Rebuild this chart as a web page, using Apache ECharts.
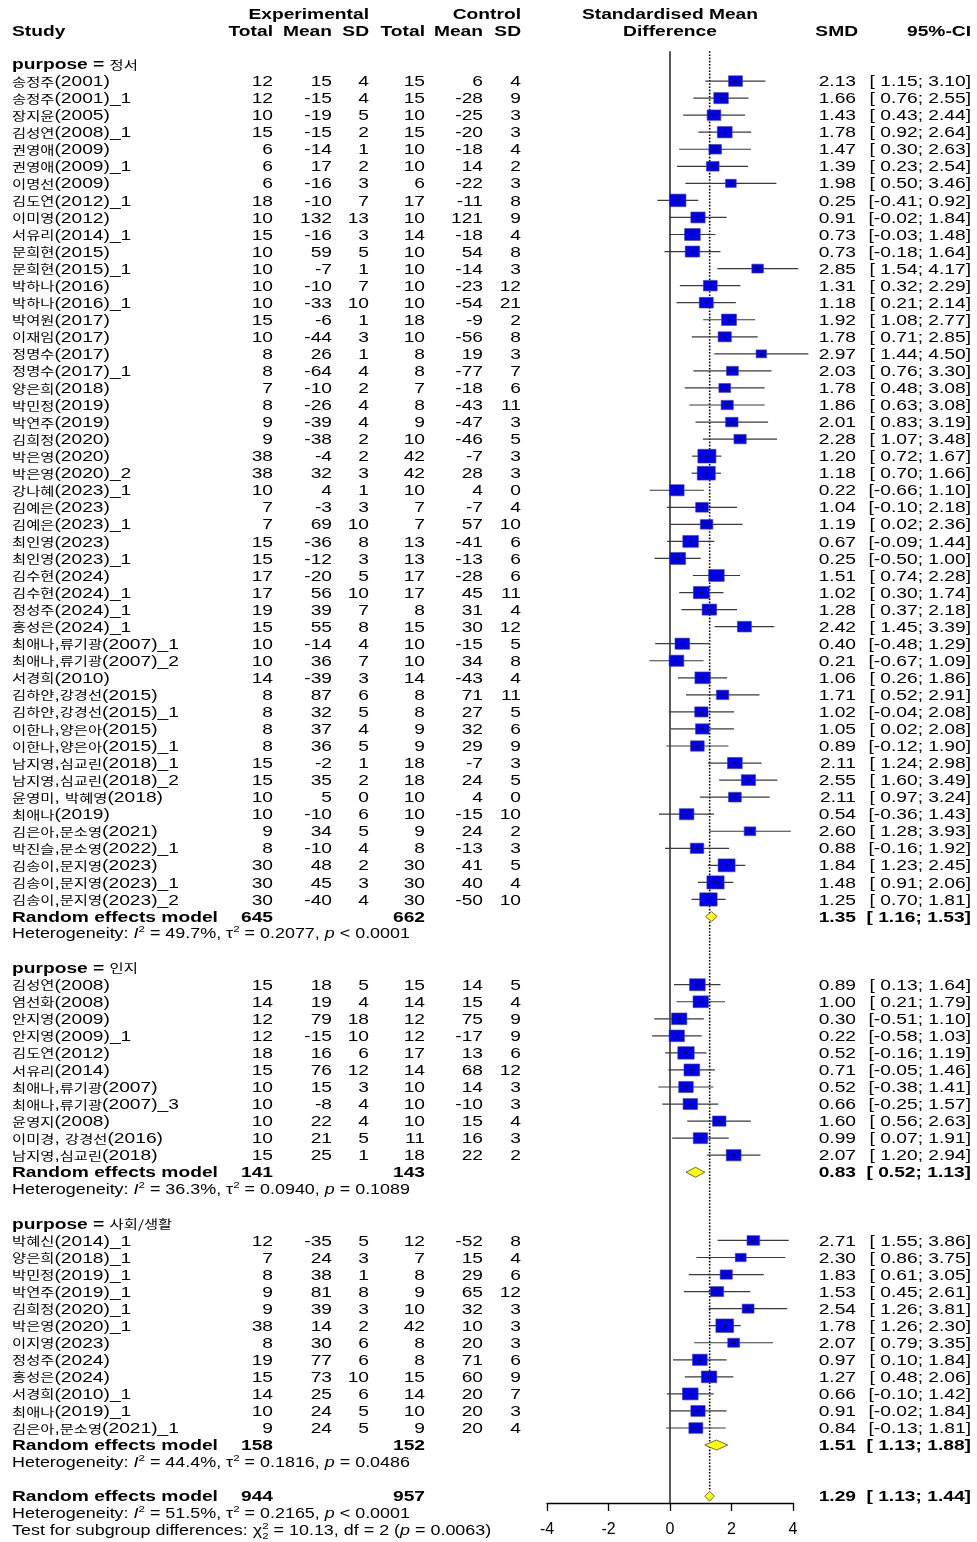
<!DOCTYPE html>
<html>
<head>
<meta charset="utf-8">
<script src="https://cdn.jsdelivr.net/npm/echarts@6/dist/echarts.min.js"></script>
<style>
  html, body { margin: 0; padding: 0; background: #fff; }
  #chart { width: 977px; height: 1542px; }
</style>
</head>
<body>
<div id="chart"></div>
<script>
// ---------- study-level data, in display order ----------
const study = [
  '송정주(2001)', '송정주(2001)_1', '장지윤(2005)', '김성연(2008)_1', '권영애(2009)', '권영애(2009)_1',
  '이명선(2009)', '김도연(2012)_1', '이미영(2012)', '서유리(2014)_1', '문희현(2015)', '문희현(2015)_1',
  '박하나(2016)', '박하나(2016)_1', '박여원(2017)', '이재임(2017)', '정명수(2017)', '정명수(2017)_1',
  '양은희(2018)', '박민정(2019)', '박연주(2019)', '김희정(2020)', '박은영(2020)', '박은영(2020)_2',
  '강나혜(2023)_1', '김예은(2023)', '김예은(2023)_1', '최인영(2023)', '최인영(2023)_1', '김수현(2024)',
  '김수현(2024)_1', '정성주(2024)_1', '홍성은(2024)_1', '최애나,류기광(2007)_1', '최애나,류기광(2007)_2',
  '서경희(2010)', '김하얀,강경선(2015)', '김하얀,강경선(2015)_1', '이한나,양은아(2015)', '이한나,양은아(2015)_1',
  '남지영,심교린(2018)_1', '남지영,심교린(2018)_2', '윤영미, 박혜영(2018)', '최애나(2019)', '김은아,문소영(2021)',
  '박진슬,문소영(2022)_1', '김송이,문지영(2023)', '김송이,문지영(2023)_1', '김송이,문지영(2023)_2',
  '김성연(2008)', '염선화(2008)', '안지영(2009)', '안지영(2009)_1', '김도연(2012)', '서유리(2014)',
  '최애나,류기광(2007)', '최애나,류기광(2007)_3', '윤영지(2008)', '이미경, 강경선(2016)', '남지영,심교린(2018)',
  '박혜신(2014)_1', '양은희(2018)_1', '박민정(2019)_1', '박연주(2019)_1', '김희정(2020)_1', '박은영(2020)_1',
  '이지영(2023)', '정성주(2024)', '홍성은(2024)', '서경희(2010)_1', '최애나(2019)_1', '김은아,문소영(2021)_1'
];
const expTotal = [
  12, 12, 10, 15, 6, 6, 6, 18, 10, 15, 10, 10, 10, 10, 15, 10, 8, 8, 7, 8, 9, 9, 38, 38, 10, 7, 7, 15, 15, 17,
  17, 19, 15, 10, 10, 14, 8, 8, 8, 8, 15, 15, 10, 10, 9, 8, 30, 30, 30,
  15, 14, 12, 12, 18, 15, 10, 10, 10, 10, 15,
  12, 7, 8, 9, 9, 38, 8, 19, 15, 14, 10, 9
];
const expMean = [
  15, -15, -19, -15, -14, 17, -16, -10, 132, -16, 59, -7, -10, -33, -6, -44, 26, -64, -10, -26, -39, -38, -4, 32,
  4, -3, 69, -36, -12, -20, 56, 39, 55, -14, 36, -39, 87, 32, 37, 36, -2, 35, 5, -10, 34, -10, 48, 45, -40,
  18, 19, 79, -15, 16, 76, 15, -8, 22, 21, 25,
  -35, 24, 38, 81, 39, 14, 30, 77, 73, 25, 24, 24
];
const expSD = [
  4, 4, 5, 2, 1, 2, 3, 7, 13, 3, 5, 1, 7, 10, 1, 3, 1, 4, 2, 4, 4, 2, 2, 3, 1, 3, 10, 8, 3, 5,
  10, 7, 8, 4, 7, 3, 6, 5, 4, 5, 1, 2, 0, 6, 5, 4, 2, 3, 4,
  5, 4, 18, 10, 6, 12, 3, 4, 4, 5, 1,
  5, 3, 1, 8, 3, 2, 6, 6, 10, 6, 5, 5
];
const ctrlTotal = [
  15, 15, 10, 15, 10, 10, 6, 17, 10, 14, 10, 10, 10, 10, 18, 10, 8, 8, 7, 8, 9, 10, 42, 42, 10, 7, 7, 13, 13, 17,
  17, 8, 15, 10, 10, 14, 8, 8, 9, 9, 18, 18, 10, 10, 9, 8, 30, 30, 30,
  15, 14, 12, 12, 17, 14, 10, 10, 10, 11, 18,
  12, 7, 8, 9, 10, 42, 8, 8, 15, 14, 10, 9
];
const ctrlMean = [
  6, -28, -25, -20, -18, 14, -22, -11, 121, -18, 54, -14, -23, -54, -9, -56, 19, -77, -18, -43, -47, -46, -7, 28,
  4, -7, 57, -41, -13, -28, 45, 31, 30, -15, 34, -43, 71, 27, 32, 29, -7, 24, 4, -15, 24, -13, 41, 40, -50,
  14, 15, 75, -17, 13, 68, 14, -10, 15, 16, 22,
  -52, 15, 29, 65, 32, 10, 20, 71, 60, 20, 20, 20
];
const ctrlSD = [
  4, 9, 3, 3, 4, 2, 3, 8, 9, 4, 8, 3, 12, 21, 2, 8, 3, 7, 6, 11, 3, 5, 3, 3, 0, 4, 10, 6, 6, 6,
  11, 4, 12, 5, 8, 4, 11, 5, 6, 9, 3, 5, 0, 10, 2, 3, 5, 4, 10,
  5, 4, 9, 9, 6, 12, 3, 3, 4, 3, 2,
  8, 4, 6, 12, 3, 3, 3, 6, 9, 7, 3, 4
];
const smd = [
  2.13, 1.66, 1.43, 1.78, 1.47, 1.39, 1.98, 0.25, 0.91, 0.73, 0.73, 2.85, 1.31, 1.18, 1.92, 1.78, 2.97, 2.03,
  1.78, 1.86, 2.01, 2.28, 1.20, 1.18, 0.22, 1.04, 1.19, 0.67, 0.25, 1.51, 1.02, 1.28, 2.42, 0.40, 0.21, 1.06,
  1.71, 1.02, 1.05, 0.89, 2.11, 2.55, 2.11, 0.54, 2.60, 0.88, 1.84, 1.48, 1.25,
  0.89, 1.00, 0.30, 0.22, 0.52, 0.71, 0.52, 0.66, 1.60, 0.99, 2.07,
  2.71, 2.30, 1.83, 1.53, 2.54, 1.78, 2.07, 0.97, 1.27, 0.66, 0.91, 0.84
];
const ciLow = [
  1.15, 0.76, 0.43, 0.92, 0.30, 0.23, 0.50, -0.41, -0.02, -0.03, -0.18, 1.54, 0.32, 0.21, 1.08, 0.71, 1.44, 0.76,
  0.48, 0.63, 0.83, 1.07, 0.72, 0.70, -0.66, -0.10, 0.02, -0.09, -0.50, 0.74, 0.30, 0.37, 1.45, -0.48, -0.67, 0.26,
  0.52, -0.04, 0.02, -0.12, 1.24, 1.60, 0.97, -0.36, 1.28, -0.16, 1.23, 0.91, 0.70,
  0.13, 0.21, -0.51, -0.58, -0.16, -0.05, -0.38, -0.25, 0.56, 0.07, 1.20,
  1.55, 0.86, 0.61, 0.45, 1.26, 1.26, 0.79, 0.10, 0.48, -0.10, -0.02, -0.13
];
const ciHigh = [
  3.10, 2.55, 2.44, 2.64, 2.63, 2.54, 3.46, 0.92, 1.84, 1.48, 1.64, 4.17, 2.29, 2.14, 2.77, 2.85, 4.50, 3.30,
  3.08, 3.08, 3.19, 3.48, 1.67, 1.66, 1.10, 2.18, 2.36, 1.44, 1.00, 2.28, 1.74, 2.18, 3.39, 1.29, 1.09, 1.86,
  2.91, 2.08, 2.08, 1.90, 2.98, 3.49, 3.24, 1.43, 3.93, 1.92, 2.45, 2.06, 1.81,
  1.64, 1.79, 1.10, 1.03, 1.19, 1.46, 1.41, 1.57, 2.63, 1.91, 2.94,
  3.86, 3.75, 3.05, 2.61, 3.81, 2.30, 3.35, 1.84, 2.06, 1.42, 1.84, 1.81
];

// ---------- subgroup summaries ----------
const subgroupName = ['정서', '인지', '사회/생활'];
const subgroupSize = [49, 11, 12];
const subgroupExpTotal = [645, 141, 158];
const subgroupCtrlTotal = [662, 143, 152];
const subgroupSMD = [1.35, 0.83, 1.51];
const subgroupLow = [1.16, 0.52, 1.13];
const subgroupHigh = [1.53, 1.13, 1.88];
const subgroupI2 = ['49.7%', '36.3%', '44.4%'];
const subgroupTau2 = ['0.2077', '0.0940', '0.1816'];
const subgroupP = ['< 0.0001', '= 0.1089', '= 0.0486'];

// ---------- overall model ----------
const overallExpTotal = 944;
const overallCtrlTotal = 957;
const overallSMD = 1.29;
const overallLow = 1.13;
const overallHigh = 1.44;
const overallI2 = '51.5%';
const overallTau2 = '0.2165';
const overallP = '< 0.0001';
const testChi2 = '10.13';
const testDf = '2';
const testP = '0.0063';

const axisTicks = [-4, -2, 0, 2, 4];

// ---------- layout ----------
const ROW0_Y = 64;          // pixel centre of the first subgroup heading
const ROW_H = 17.05;        // row pitch
const AXIS_Y = 1503;        // pixel position of the x axis line
const AXIS_ROW = (AXIS_Y - ROW0_Y) / ROW_H;
const TOP_ROW = -3;
const GRID_TOP = ROW0_Y + TOP_ROW * ROW_H;
const SX = 1.28;            // horizontal text stretch
const TEXT_DY = 1;
const LATIN = '"Liberation Sans", Arial, "Noto Sans CJK KR", sans-serif';
const KFAM = '"Noto Sans CJK KR", "Liberation Sans", sans-serif';
const COL = { study: 12, eTot: 273, eMean: 332, eSD: 369, cTot: 425, cMean: 483, cSD: 521, smdHead: 858, smd: 856, ci: 971, mid: 670 };

const measureCtx = document.createElement('canvas').getContext('2d');
function fontStr(s) {
  return (s.italic ? 'italic ' : '') + (s.bold ? 'bold ' : '') + s.size + 'px ' + (s.family || LATIN);
}
function textWidth(s) {
  measureCtx.font = fontStr(s);
  return measureCtx.measureText(s.t).width;
}
// lay out a list of text runs on one line and return graphic elements
function runs(x, y, segs, align) {
  let total = 0;
  const pos = [];
  segs.forEach(s => { pos.push(total); if (!s.stack) total += textWidth(s) * SX; });
  const x0 = align === 'right' ? x - total : align === 'center' ? x - total / 2 : x;
  return segs.map((s, i) => ({
    type: 'text', silent: true,
    x: x0 + pos[i], y: y + TEXT_DY + (s.dy || 0), scaleX: SX,
    style: { text: s.t, font: fontStr(s), fill: '#000', align: 'left', verticalAlign: 'middle' }
  }));
}
const R = (t, size) => ({ t, size: size || 15 });
const B = (t, size) => ({ t, size: size || 15, bold: true });
const IT = (t, size) => ({ t, size: size || 14, italic: true });
const SUP = (t, stack) => ({ t, size: 9, dy: -5, stack: !!stack });
const SUB = t => ({ t, size: 9, dy: 5 });
function nameSegs(name, size, bold, ksize) {
  return name.split(/([가-힣]+(?:\/[가-힣]+)*)/).filter(Boolean).map(part =>
    /[가-힣]/.test(part)
      ? { t: part, size: ksize, family: KFAM, bold: false }
      : { t: part, size, bold });
}
const f2 = v => v.toFixed(2);
const ciText = (lo, hi) => '[' + (lo >= 0 ? ' ' : '') + f2(lo) + '; ' + f2(hi) + ']';
function hetSegs(i2, tau2, p) {
  return [R('Heterogeneity: ', 14), IT('I'), SUP('2'), R(' = ' + i2 + ', ', 14), R('τ', 14), SUP('2'),
          R(' = ' + tau2 + ', ', 14), IT('p'), R(' ' + p, 14)];
}

// ---------- table rows ----------
const textRows = [];
const studyRow = [];
const pooled = [];   // [smd, row, low, high]
textRows.push({ row: -2.95, items: [
  { x: COL.eSD, align: 'right', segs: [B('Experimental')] },
  { x: COL.cSD, align: 'right', segs: [B('Control')] },
  { x: COL.mid, align: 'center', segs: [B('Standardised Mean')] }
] });
textRows.push({ row: -1.95, items: [
  { x: COL.study, align: 'left', segs: [B('Study')] },
  { x: COL.eTot, align: 'right', segs: [B('Total')] },
  { x: COL.eMean, align: 'right', segs: [B('Mean')] },
  { x: COL.eSD, align: 'right', segs: [B('SD')] },
  { x: COL.cTot, align: 'right', segs: [B('Total')] },
  { x: COL.cMean, align: 'right', segs: [B('Mean')] },
  { x: COL.cSD, align: 'right', segs: [B('SD')] },
  { x: COL.mid, align: 'center', segs: [B('Difference')] },
  { x: COL.smdHead, align: 'right', segs: [B('SMD')] },
  { x: COL.ci, align: 'right', segs: [B('95%-CI')] }
] });

let r = 0, k = 0;
subgroupName.forEach((g, gi) => {
  textRows.push({ row: r, items: [{ x: COL.study, align: 'left', segs: [B('purpose = ')].concat(nameSegs(g, 15, false, 12)) }] });
  r++;
  for (let j = 0; j < subgroupSize[gi]; j++, k++, r++) {
    studyRow.push(r);
    textRows.push({ row: r, items: [
      { x: COL.study, align: 'left', segs: nameSegs(study[k], 15, false, 12) },
      { x: COL.eTot, align: 'right', segs: [R(String(expTotal[k]))] },
      { x: COL.eMean, align: 'right', segs: [R(String(expMean[k]))] },
      { x: COL.eSD, align: 'right', segs: [R(String(expSD[k]))] },
      { x: COL.cTot, align: 'right', segs: [R(String(ctrlTotal[k]))] },
      { x: COL.cMean, align: 'right', segs: [R(String(ctrlMean[k]))] },
      { x: COL.cSD, align: 'right', segs: [R(String(ctrlSD[k]))] },
      { x: COL.smd, align: 'right', segs: [R(f2(smd[k]))] },
      { x: COL.ci, align: 'right', segs: [R(ciText(ciLow[k], ciHigh[k]))] }
    ] });
  }
  textRows.push({ row: r, items: [
    { x: COL.study, align: 'left', segs: [B('Random effects model')] },
    { x: COL.eTot, align: 'right', segs: [B(String(subgroupExpTotal[gi]))] },
    { x: COL.cTot, align: 'right', segs: [B(String(subgroupCtrlTotal[gi]))] },
    { x: COL.smd, align: 'right', segs: [B(f2(subgroupSMD[gi]))] },
    { x: COL.ci, align: 'right', segs: [B(ciText(subgroupLow[gi], subgroupHigh[gi]))] }
  ] });
  pooled.push([subgroupSMD[gi], r, subgroupLow[gi], subgroupHigh[gi]]);
  textRows.push({ row: r + 1, items: [{ x: COL.study, align: 'left', segs: hetSegs(subgroupI2[gi], subgroupTau2[gi], subgroupP[gi]) }] });
  r += 3;
});
const overallRow = r;
textRows.push({ row: r, items: [
  { x: COL.study, align: 'left', segs: [B('Random effects model')] },
  { x: COL.eTot, align: 'right', segs: [B(String(overallExpTotal))] },
  { x: COL.cTot, align: 'right', segs: [B(String(overallCtrlTotal))] },
  { x: COL.smd, align: 'right', segs: [B(f2(overallSMD))] },
  { x: COL.ci, align: 'right', segs: [B(ciText(overallLow, overallHigh))] }
] });
pooled.push([overallSMD, r, overallLow, overallHigh]);
textRows.push({ row: r + 1, items: [{ x: COL.study, align: 'left', segs: hetSegs(overallI2, overallTau2, overallP) }] });
textRows.push({ row: r + 2, items: [{ x: COL.study, align: 'left', segs: [
  R('Test for subgroup differences: ', 14), R('χ', 14), SUP('2', true), SUB('2'),
  R(' = ' + testChi2 + ', df = ' + testDf + ' (', 14), IT('p'), R(' = ' + testP + ')', 14)
] }] });

// square size follows the random-effects weight of each study
const tau2 = parseFloat(overallTau2);
function squareWidth(lo, hi) {
  const se = (hi - lo) / (2 * 1.96);
  return 9.5 * Math.sqrt(1 / (se * se + tau2));
}

const studyData = smd.map((v, i) => [v, studyRow[i], ciLow[i], ciHigh[i]]);
const refLines = [
  [0, -0.75, AXIS_ROW, 0],
  [overallSMD, -0.75, overallRow - 0.3, 1]
];

const chart = echarts.init(document.getElementById('chart'), null, { renderer: 'canvas', width: 977, height: 1542 });
chart.setOption({
  animation: false,
  backgroundColor: '#fff',
  grid: {
    left: 547, width: 246, top: GRID_TOP, height: AXIS_Y - GRID_TOP,
    containLabel: false, outerBoundsMode: 'none'
  },
  xAxis: {
    type: 'value',
    min: axisTicks[0], max: axisTicks[axisTicks.length - 1], interval: axisTicks[1] - axisTicks[0],
    axisLine: { show: true, onZero: false, lineStyle: { color: '#000', width: 1.3 } },
    axisTick: { show: true, inside: false, length: 8, lineStyle: { color: '#000', width: 1.3 } },
    axisLabel: { show: true, margin: 19, fontSize: 16, color: '#000', fontFamily: LATIN },
    splitLine: { show: false }
  },
  yAxis: { type: 'value', inverse: true, min: TOP_ROW, max: AXIS_ROW, show: false },
  series: [
    {
      // vertical reference lines: no effect (solid) and pooled effect (dotted)
      type: 'custom', clip: false, z: 1,
      data: refLines,
      renderItem(params, api) {
        const a = api.coord([api.value(0), api.value(1)]);
        const b = api.coord([api.value(0), api.value(2)]);
        const dotted = api.value(3) === 1;
        return {
          type: 'line', silent: true,
          shape: { x1: a[0], y1: a[1], x2: b[0], y2: b[1] },
          style: { stroke: '#000', lineWidth: dotted ? 1.6 : 1.3, lineDash: dotted ? [1.6, 1.6] : null }
        };
      }
    },
    {
      // study estimates: confidence interval and weighted square
      type: 'custom', clip: false, z: 2,
      data: studyData,
      renderItem(params, api) {
        const p = api.coord([api.value(0), api.value(1)]);
        const lo = api.coord([api.value(2), api.value(1)]);
        const hi = api.coord([api.value(3), api.value(1)]);
        const w = squareWidth(api.value(2), api.value(3));
        const h = w * 0.76;
        return {
          type: 'group', children: [
            { type: 'line', shape: { x1: lo[0], y1: lo[1], x2: hi[0], y2: hi[1] }, style: { stroke: '#3a3a3a', lineWidth: 1.2 } },
            { type: 'rect', shape: { x: p[0] - w / 2, y: p[1] - h / 2, width: w, height: h }, style: { fill: '#0000f0', stroke: '#44448a', lineWidth: 0.6 } },
            { type: 'rect', shape: { x: p[0] - 1.5, y: p[1] - 1, width: 3, height: 2 }, style: { fill: '#111' } }
          ]
        };
      }
    },
    {
      // pooled estimates as diamonds
      type: 'custom', clip: false, z: 3,
      data: pooled,
      renderItem(params, api) {
        const row = api.value(1);
        const l = api.coord([api.value(2), row]);
        const c = api.coord([api.value(0), row]);
        const rr = api.coord([api.value(3), row]);
        const hh = 5;
        return {
          type: 'polygon',
          shape: { points: [[l[0], l[1]], [c[0], c[1] - hh], [rr[0], rr[1]], [c[0], c[1] + hh]] },
          style: { fill: '#ffff00', stroke: '#6b6b4a', lineWidth: 1 }
        };
      }
    },
    {
      // table text
      type: 'custom', clip: false, z: 4,
      data: textRows.map(t => [0, t.row]),
      renderItem(params, api) {
        const def = textRows[params.dataIndex];
        const y = api.coord([0, def.row])[1];
        let children = [];
        def.items.forEach(it => { children = children.concat(runs(it.x, y, it.segs, it.align)); });
        return { type: 'group', children };
      }
    }
  ]
});
</script>
</body>
</html>
